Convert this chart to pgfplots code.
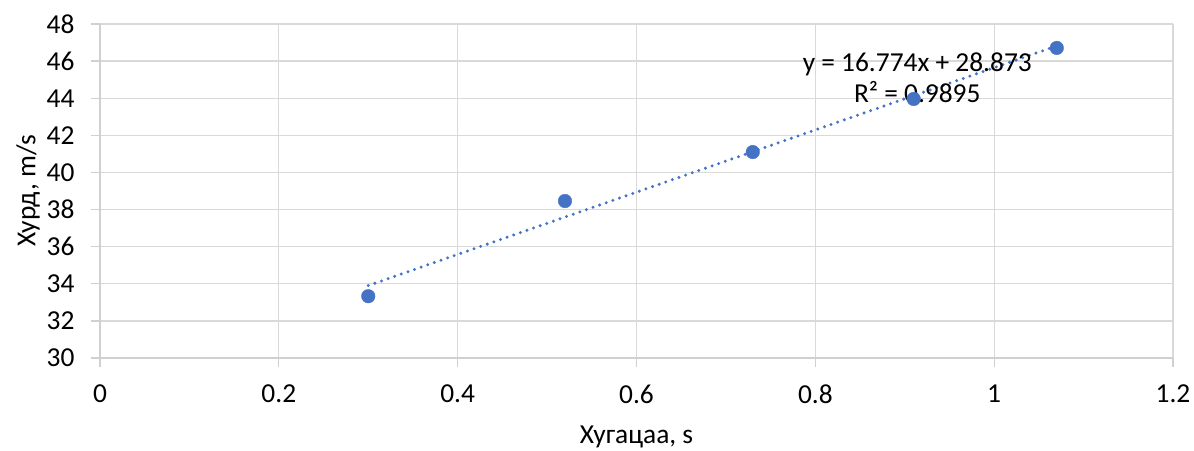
\documentclass[border=0pt]{standalone}
\usepackage{fontspec}
\setmainfont{Carlito}
\usepackage{pgfplots}
\pgfplotsset{compat=1.18}
\definecolor{ptblue}{HTML}{4472C4}
\definecolor{gridc}{HTML}{D9D9D9}
\definecolor{axc}{HTML}{D0D0D0}
\newcommand\chartfont{\fontsize{27.5}{33}\selectfont}
\begin{document}
\begin{tikzpicture}
\begin{axis}[
    name=ax,
    scale only axis,
    width=1073bp, height=334bp,
    xmin=0, xmax=1.2, ymin=30, ymax=48,
    xtick={0,0.2,0.4,0.6,0.8,1,1.2},
    xticklabels={0,0.2,0.4,0.6,0.8,1,1.2},
    ytick={30,32,...,48},
    grid=major,
    grid style={gridc, line width=1.3bp},
    axis line style={axc, line width=1.3bp},
    major tick style={axc, line width=1.3bp},
    tick align=outside,
    major tick length=9bp,
    axis lines*=left,
    tick label style={font=\chartfont},
    label style={font=\chartfont},
    /pgf/number format/assume math mode=true,
    xticklabel style={yshift=-14bp},
    yticklabel style={xshift=-13bp},
    xlabel={Хугацаа, s},
    ylabel={Хурд, m/s},
    xlabel style={yshift=-16bp},
    ylabel style={yshift=0bp},
    clip=false,
]
    % trend line y = 16.774x + 28.873
    \addplot[ptblue, line width=3.3bp, line cap=round, dash pattern=on 0bp off 7bp] coordinates {
        (0.3, 33.905) (1.07, 46.821)
    };
    % measured points
    \addplot[only marks, mark=*, mark size=6.8bp, ptblue, mark options={draw=ptblue, fill=ptblue}] coordinates {
        (0.30, 33.33)
        (0.52, 38.46)
        (0.73, 41.10)
        (0.91, 43.96)
        (1.07, 46.71)
    };
    \node[align=center, font=\fontsize{27.5}{31}\selectfont] at (axis cs:0.914,45.12) {y = 16.774x + 28.873\\R² = 0.9895};
\end{axis}
\pgfresetboundingbox
\path (ax.south west) ++(-100bp,-92bp) coordinate (bl);
\path (ax.north east) ++(21bp,24bp) coordinate (tr);
\path (bl) rectangle (tr);
\end{tikzpicture}
\end{document}
